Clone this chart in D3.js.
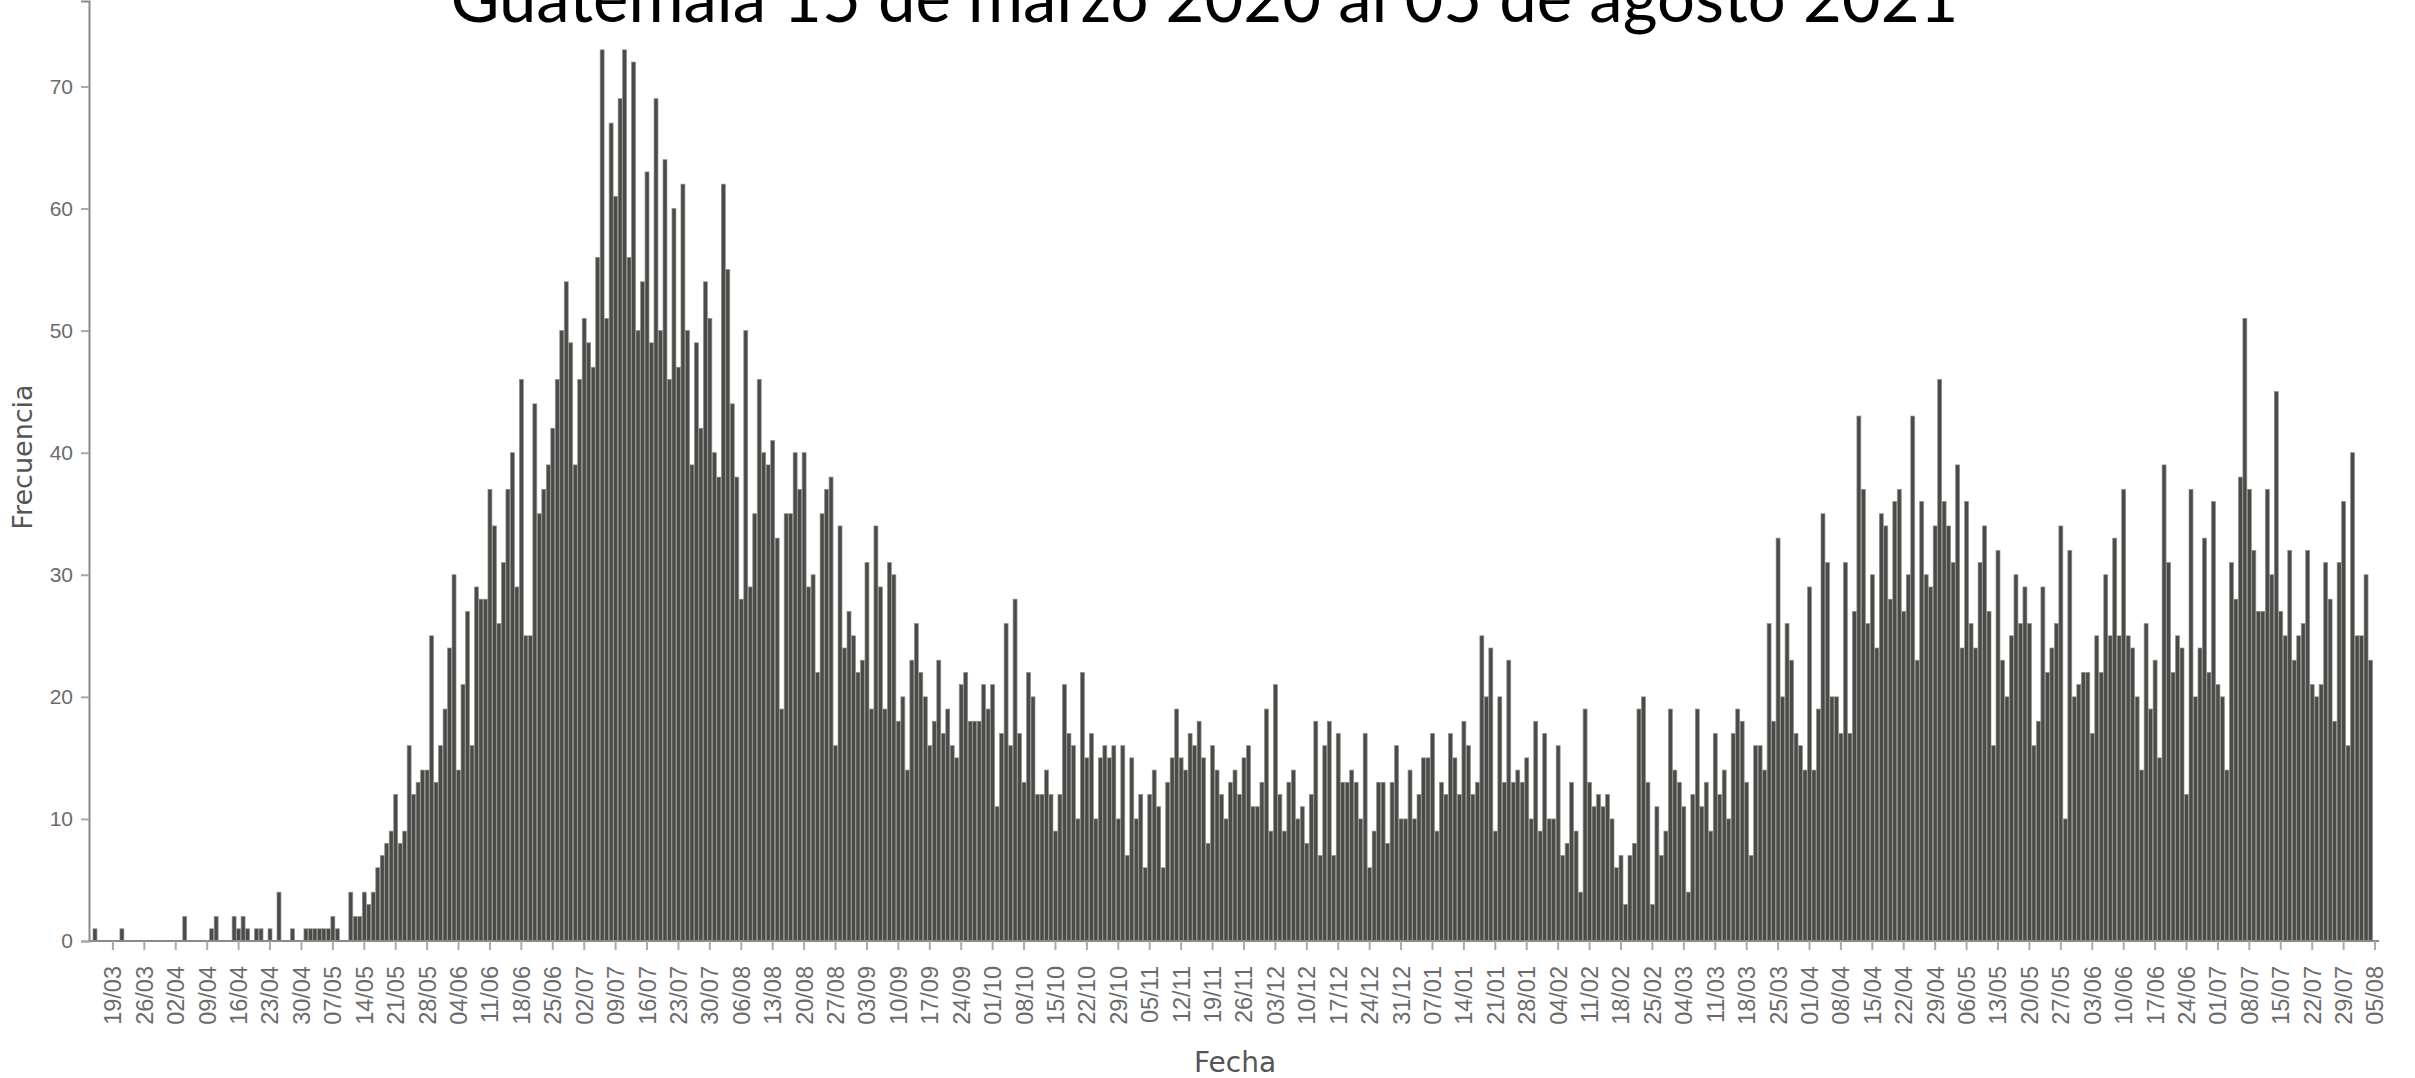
<!DOCTYPE html>
<html>
<head>
<meta charset="utf-8">
<script src="https://cdn.jsdelivr.net/npm/d3@7"></script>
<style>
  body { margin: 0; background: #fff; }
  svg { display: block; }
</style>
</head>
<body>
<div id="chart"></div>
<script>
// casos diarios, 15/03/2020 .. 05/08/2021
const startDate = "2020-03-15";
const endDate = "2021-08-05";
const counts = [
  1, 0, 0, 0, 0, 0, 1, 0, 0, 0,
  0, 0, 0, 0, 0, 0, 0, 0, 0, 0,
  2, 0, 0, 0, 0, 0, 1, 2, 0, 0,
  0, 2, 1, 2, 1, 0, 1, 1, 0, 1,
  0, 4, 0, 0, 1, 0, 0, 1, 1, 1,
  1, 1, 1, 2, 1, 0, 0, 4, 2, 2,
  4, 3, 4, 6, 7, 8, 9, 12, 8, 9,
  16, 12, 13, 14, 14, 25, 13, 16, 19, 24,
  30, 14, 21, 27, 16, 29, 28, 28, 37, 34,
  26, 31, 37, 40, 29, 46, 25, 25, 44, 35,
  37, 39, 42, 46, 50, 54, 49, 39, 46, 51,
  49, 47, 56, 73, 51, 67, 61, 69, 73, 56,
  72, 50, 54, 63, 49, 69, 50, 64, 46, 60,
  47, 62, 50, 39, 49, 42, 54, 51, 40, 38,
  62, 55, 44, 38, 28, 50, 29, 35, 46, 40,
  39, 41, 33, 19, 35, 35, 40, 37, 40, 29,
  30, 22, 35, 37, 38, 16, 34, 24, 27, 25,
  22, 23, 31, 19, 34, 29, 19, 31, 30, 18,
  20, 14, 23, 26, 22, 20, 16, 18, 23, 17,
  19, 16, 15, 21, 22, 18, 18, 18, 21, 19,
  21, 11, 17, 26, 16, 28, 17, 13, 22, 20,
  12, 12, 14, 12, 9, 12, 21, 17, 16, 10,
  22, 15, 17, 10, 15, 16, 15, 16, 10, 16,
  7, 15, 10, 12, 6, 12, 14, 11, 6, 13,
  15, 19, 15, 14, 17, 16, 18, 15, 8, 16,
  14, 12, 10, 13, 14, 12, 15, 16, 11, 11,
  13, 19, 9, 21, 12, 9, 13, 14, 10, 11,
  8, 12, 18, 7, 16, 18, 7, 17, 13, 13,
  14, 13, 10, 17, 6, 9, 13, 13, 8, 13,
  16, 10, 10, 14, 10, 12, 15, 15, 17, 9,
  13, 12, 17, 15, 12, 18, 16, 12, 13, 25,
  20, 24, 9, 20, 13, 23, 13, 14, 13, 15,
  10, 18, 9, 17, 10, 10, 16, 7, 8, 13,
  9, 4, 19, 13, 11, 12, 11, 12, 10, 6,
  7, 3, 7, 8, 19, 20, 13, 3, 11, 7,
  9, 19, 14, 13, 11, 4, 12, 19, 11, 13,
  9, 17, 12, 14, 10, 17, 19, 18, 13, 7,
  16, 16, 14, 26, 18, 33, 20, 26, 23, 17,
  16, 14, 29, 14, 19, 35, 31, 20, 20, 17,
  31, 17, 27, 43, 37, 26, 30, 24, 35, 34,
  28, 36, 37, 27, 30, 43, 23, 36, 30, 29,
  34, 46, 36, 34, 31, 39, 24, 36, 26, 24,
  31, 34, 27, 16, 32, 23, 20, 25, 30, 26,
  29, 26, 16, 18, 29, 22, 24, 26, 34, 10,
  32, 20, 21, 22, 22, 17, 25, 22, 30, 25,
  33, 25, 37, 25, 24, 20, 14, 26, 19, 23,
  15, 39, 31, 22, 25, 24, 12, 37, 20, 24,
  33, 22, 36, 21, 20, 14, 31, 28, 38, 51,
  37, 32, 27, 27, 37, 30, 45, 27, 25, 32,
  23, 25, 26, 32, 21, 20, 21, 31, 28, 18,
  31, 36, 16, 40, 25, 25, 30, 23, 0
];
const yTicks = [0, 10, 20, 30, 40, 50, 60, 70];
const tickEvery = 7;      // una etiqueta por semana
const firstTick = 4;      // 19/03
const title = "Guatemala 15 de marzo 2020  al 05 de agosto 2021";
const xTitle = "Fecha";
const yTitle = "Frecuencia";

const width = 2415, height = 1078;
const margin = {top: 1, right: 38, bottom: 137, left: 93};

const parse = d3.utcParse("%Y-%m-%d");
const fmt = d3.utcFormat("%d/%m");
const dates = d3.utcDay.range(parse(startDate), d3.utcDay.offset(parse(endDate), 1));
const data = dates.map((d, i) => ({date: d, key: fmt(d) + "-" + i, value: counts[i]}));

const x = d3.scaleBand()
    .domain(data.map(d => d.key))
    .range([margin.left, width - margin.right])
    .paddingInner(0.12);

const y = d3.scaleLinear()
    .domain([0, 77])
    .range([height - margin.bottom, margin.top]);

const svg = d3.select('#chart').append('svg')
    .attr("width", width)
    .attr("height", height)
    .attr("font-family", "'DejaVu Sans', Verdana, sans-serif");

svg.append("g")
  .selectAll("rect")
  .data(data)
  .join("rect")
    .attr("x", d => x(d.key))
    .attr("y", d => y(d.value))
    .attr("width", x.bandwidth())
    .attr("height", d => y(0) - y(d.value))
    .attr("fill", "#4a4b47")
    .attr("stroke", "#8f8f8d")
    .attr("stroke-width", 0.7);

// eje x
const tickKeys = data.filter((d, i) => i >= firstTick && (i - firstTick) % tickEvery === 0).map(d => d.key);
const xAxis = svg.append("g")
    .attr("transform", `translate(0,${y(0)})`)
    .call(d3.axisBottom(x).tickValues(tickKeys).tickSize(9).tickFormat(k => k.split("-")[0]));
xAxis.select(".domain").attr("stroke", "#8a8a8a").attr("stroke-width", 2)
    .attr("d", `M${margin.left - 4},0H${width - margin.right + 2}`);
xAxis.selectAll(".tick line").attr("stroke", "#aaa").attr("stroke-width", 2);
xAxis.selectAll(".tick text")
    .attr("fill", "#6b6b6b")
    .attr("font-size", 23.5)
    .attr("text-anchor", "end")
    .attr("transform", "rotate(-90)")
    .attr("x", -25)
    .attr("y", 0)
    .attr("dy", "0.36em");

// eje y
const yAxis = svg.append("g")
    .attr("transform", `translate(${margin.left - 4},0)`)
    .call(d3.axisLeft(y).tickValues(yTicks).tickSize(8).tickPadding(8));
yAxis.select(".domain").attr("stroke", "#8a8a8a").attr("stroke-width", 2);
yAxis.selectAll(".tick line").attr("stroke", "#aaa").attr("stroke-width", 2);
yAxis.selectAll(".tick text").attr("fill", "#6b6b6b").attr("font-size", 21);

svg.append("text")
    .attr("x", (margin.left + width - margin.right) / 2)
    .attr("y", 1072)
    .attr("text-anchor", "middle")
    .attr("font-size", 28)
    .attr("fill", "#555")
    .text(xTitle);

svg.append("text")
    .attr("transform", `translate(32,${(y(0) + margin.top) / 2 - 14}) rotate(-90)`)
    .attr("text-anchor", "middle")
    .attr("font-size", 27)
    .attr("fill", "#555")
    .text(yTitle);

svg.append("text")
    .attr("x", width / 2 - 3)
    .attr("y", 22)
    .attr("text-anchor", "middle")
    .attr("font-family", "Lato, 'Open Sans', sans-serif")
    .attr("font-size", 67)
    .attr("fill", "#000")
    .text(title);
</script>
</body>
</html>
